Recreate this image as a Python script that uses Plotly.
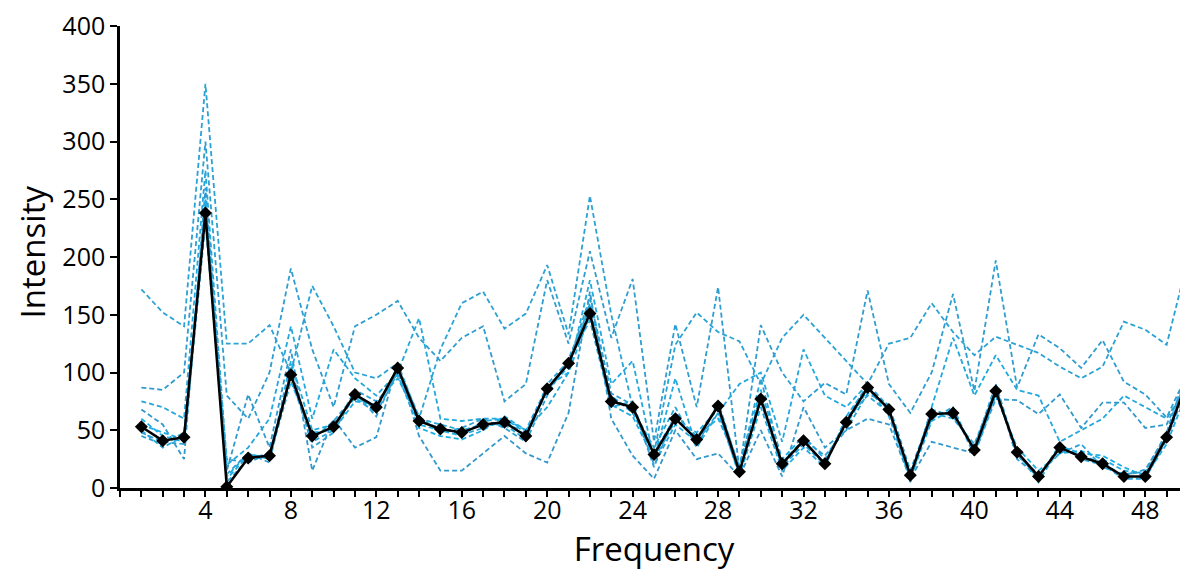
import plotly.graph_objects as go

freq = list(range(1, 51))

mean_intensity = [53, 41, 44, 238, 1, 26, 28, 98, 45, 53, 81, 70, 104, 58, 51, 48, 55, 57, 45, 86,
                  108, 151, 75, 70, 29, 60, 42, 71, 14, 77, 21, 41, 21, 57, 87, 68, 11, 64, 65, 33,
                  84, 31, 10, 35, 27, 21, 10, 10, 44, 95]

sample_1 = [172, 152, 140, 350, 125, 125, 141, 100, 175, 140, 100, 95, 108, 60, 120, 160, 170, 138, 151, 193,
            133, 253, 150, 70, 30, 124, 152, 135, 127, 90, 130, 150, 130, 110, 90, 125, 130, 160, 135, 115,
            131, 124, 117, 105, 95, 105, 144, 137, 124, 198]
sample_2 = [87, 85, 100, 300, 80, 60, 100, 190, 120, 70, 140, 150, 162, 130, 110, 130, 140, 75, 90, 180,
            125, 205, 130, 181, 40, 142, 70, 174, 15, 141, 100, 75, 91, 81, 171, 90, 65, 100, 168, 84,
            197, 87, 133, 121, 104, 128, 92, 81, 61, 100]
sample_3 = [75, 70, 60, 275, 20, 35, 60, 140, 60, 120, 95, 80, 100, 147, 60, 58, 60, 60, 50, 70,
            100, 180, 90, 110, 25, 95, 35, 65, 90, 100, 40, 120, 80, 70, 90, 70, 5, 70, 130, 80,
            115, 85, 80, 40, 50, 60, 80, 70, 60, 90]
sample_4 = [68, 55, 25, 260, 15, 81, 35, 120, 15, 60, 35, 44, 108, 45, 15, 15, 30, 45, 30, 22,
            65, 170, 60, 28, 8, 50, 25, 30, 10, 50, 10, 70, 35, 50, 60, 55, 8, 40, 35, 30,
            77, 76, 64, 81, 52, 74, 74, 52, 55, 95]
sample_5 = [60, 45, 40, 250, 10, 30, 25, 110, 50, 55, 78, 65, 100, 55, 50, 45, 58, 60, 48, 85,
            105, 160, 80, 65, 30, 62, 45, 60, 20, 85, 25, 45, 25, 55, 85, 70, 12, 60, 70, 30,
            80, 35, 15, 30, 32, 25, 15, 12, 45, 100]
sample_6 = [50, 35, 45, 240, 5, 25, 30, 95, 40, 50, 85, 75, 95, 60, 55, 50, 55, 55, 42, 90,
            110, 145, 70, 75, 20, 55, 40, 65, 12, 75, 18, 38, 20, 60, 80, 65, 10, 68, 62, 35,
            90, 30, 8, 38, 25, 20, 8, 8, 42, 90]
sample_7 = [45, 38, 48, 235, 25, 22, 30, 100, 42, 58, 80, 68, 105, 62, 48, 52, 60, 52, 40, 80,
            112, 155, 78, 68, 35, 70, 35, 75, 16, 95, 22, 42, 28, 50, 82, 72, 15, 65, 60, 38,
            85, 28, 12, 30, 38, 18, 12, 14, 48, 105]
sample_8 = [55, 48, 42, 245, 8, 28, 26, 92, 48, 50, 75, 72, 98, 52, 45, 42, 50, 62, 50, 88,
            100, 150, 72, 62, 25, 58, 48, 68, 10, 70, 15, 35, 18, 62, 88, 62, 8, 58, 68, 28,
            82, 32, 5, 36, 30, 28, 18, 10, 38, 85]
sample_9 = [48, 40, 38, 230, 12, 30, 22, 105, 35, 48, 82, 62, 102, 58, 52, 46, 52, 58, 46, 84,
            108, 165, 82, 72, 18, 65, 42, 72, 18, 80, 20, 40, 22, 58, 90, 66, 12, 62, 66, 32,
            88, 25, 10, 34, 28, 22, 10, 16, 46, 95]

samples = [sample_1, sample_2, sample_3, sample_4, sample_5, sample_6, sample_7, sample_8, sample_9]

x_tickvals = list(range(2, 50, 2))
x_ticktext = [str(v) if v % 4 == 0 else "" for v in x_tickvals]
y_tickvals = list(range(0, 401, 50))

fig = go.Figure()
sample_colors = ["#2aa2d4", "#2f9dcf", "#22a8dc", "#3399cc", "#1cade4", "#27a5d9", "#2aa2d4", "#1cade4", "#30a0d0"]
for s, c in zip(samples, sample_colors):
    fig.add_trace(go.Scatter(x=freq, y=s, mode="lines",
                             line=dict(color=c, width=1.8, dash="5px,3px"),
                             showlegend=False, hoverinfo="skip"))

fig.add_trace(go.Scatter(x=freq, y=mean_intensity, mode="lines+markers",
                         line=dict(color="black", width=2.5),
                         marker=dict(symbol="diamond", size=10, color="black"),
                         showlegend=False))

font_family = "Open Sans, Noto Sans, DejaVu Sans, sans-serif"
fig.update_layout(
    width=1180, height=563,
    margin=dict(l=112, r=0, t=13, b=83),
    plot_bgcolor="white", paper_bgcolor="white",
    font=dict(family=font_family, color="black"),
    xaxis=dict(range=[0, 50], tickvals=x_tickvals, ticktext=x_ticktext,
               showline=True, linecolor="black", linewidth=2.5,
               ticks="outside", ticklen=6, tickwidth=2, tickcolor="black",
               minor=dict(dtick=1, tick0=0, ticks="outside", ticklen=6, tickwidth=2, tickcolor="black"),
               showgrid=False, zeroline=False, ticklabeloverflow="allow",
               ticklabelstandoff=-8,
               tickfont=dict(size=25, color="black"),
               title=dict(text="Frequency", font=dict(size=33, color="black"), standoff=12)),
    yaxis=dict(range=[0, 400], tickvals=y_tickvals,
               showline=True, linecolor="black", linewidth=2.5,
               ticks="outside", ticklen=7, tickwidth=2, tickcolor="black",
               showgrid=False, zeroline=False, ticklabeloverflow="allow",
               tickfont=dict(size=25, color="black")),
    annotations=[dict(text="Intensity", textangle=-90, xref="paper", yref="paper",
                      x=0, y=0.51, xanchor="center", yanchor="middle", xshift=-88,
                      showarrow=False, font=dict(size=33, color="black"))],
)

fig.write_html("out.html")
